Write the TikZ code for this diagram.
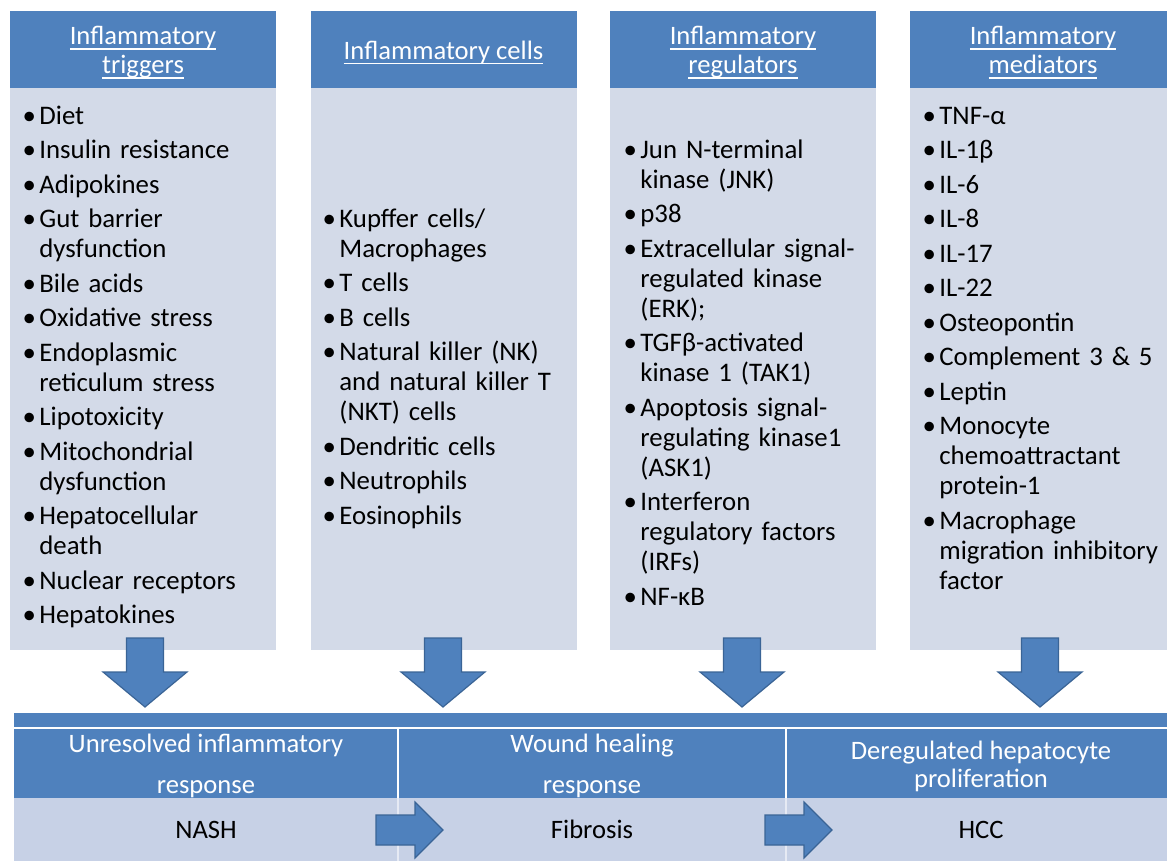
\documentclass[tikz,border=0pt]{standalone}
\usepackage{fontspec}
\setmainfont{Carlito}
\definecolor{hdblue}{HTML}{4F81BD}
\definecolor{bodyblue}{HTML}{D3DAE8}
\definecolor{rowblue}{HTML}{C7D1E6}
\definecolor{edgeblue}{HTML}{3A6496}
\newcommand{\hul}[1]{\setbox0\hbox{#1}\rlap{\raisebox{-2.4pt}{\rule{\wd0}{0.7pt}}}\box0}
\newenvironment{blist}{\begin{list}{\hbox to 6pt{\hss\textbullet\hss}}{%
  \setlength{\leftmargin}{8pt}\setlength{\labelwidth}{6pt}%
  \setlength{\labelsep}{2pt}\setlength{\itemsep}{2.25pt}%
  \setlength{\topsep}{0pt}\setlength{\partopsep}{0pt}\setlength{\parsep}{0pt}}}%
  {\end{list}}

\begin{document}
\begin{tikzpicture}[x=0.5pt,y=-0.5pt]
	\tikzstyle{headbox}=[rectangle,fill=hdblue,inner sep=0pt,minimum width=133pt,minimum height=38.5pt]
	\tikzstyle{headtext}=[text=white,align=center,inner sep=0pt,yshift=-1.5pt,font=\fontsize{13.3}{14.5}\selectfont]
	\tikzstyle{bodybox}=[rectangle,fill=bodyblue,inner sep=0pt,minimum width=133pt,minimum height=281pt]
	\tikzstyle{listtext}=[anchor=north west,inner sep=0pt,text width=125pt,align=left,font=\fontsize{13.4}{15}\selectfont]
	\tikzstyle{cellhead}=[rectangle,fill=hdblue,inner sep=0pt,minimum height=34.5pt]
	\tikzstyle{celltext}=[text=white,align=center,inner sep=0pt]
	\tikzstyle{cellbody}=[rectangle,fill=rowblue,inner sep=0pt,minimum height=31.5pt,font=\fontsize{13.3}{15}\selectfont]
	\tikzstyle{fatarrow}=[fill=hdblue,draw=edgeblue,line width=0.6pt,line join=miter]

	\clip (0,0) rectangle (1167,861);
	\fill[white] (0,0) rectangle (1167,861);

	% the four columns
	\node [headbox] (h1) at (143,49.5) {};
	\node [headbox] (h2) at (443.5,49.5) {};
	\node [headbox] (h3) at (743,49.5) {};
	\node [headbox] (h4) at (1043,49.5) {};
	\node [headtext] (t1) at (h1) {\hul{Inflammatory}\\\hul{triggers}};
	\node [headtext] (t2) at (h2) {\hul{Inflammatory cells}};
	\node [headtext] (t3) at (h3) {\hul{Inflammatory}\\\hul{regulators}};
	\node [headtext] (t4) at (h4) {\hul{Inflammatory}\\\hul{mediators}};

	\node [bodybox] (b1) at (143,369) {};
	\node [bodybox] (b2) at (443.5,369) {};
	\node [bodybox] (b3) at (743,369) {};
	\node [bodybox] (b4) at (1043,369) {};

	\node [listtext] (l1) at (23,94) {\begin{blist}
		\item Diet
		\item Insulin resistance
		\item Adipokines
		\item Gut barrier\\dysfunction
		\item Bile acids
		\item Oxidative stress
		\item Endoplasmic\\reticulum stress
		\item Lipotoxicity
		\item Mitochondrial\\dysfunction
		\item Hepatocellular\\death
		\item Nuclear receptors
		\item Hepatokines
	\end{blist}};
	\node [listtext] (l2) at (323,197) {\begin{blist}
		\item Kupffer cells/\\Macrophages
		\item T cells
		\item B cells
		\item Natural killer (NK)\\and natural killer T\\(NKT) cells
		\item Dendritic cells
		\item Neutrophils
		\item Eosinophils
	\end{blist}};
	\node [listtext] (l3) at (624,128) {\begin{blist}
		\item Jun N-terminal\\kinase (JNK)
		\item p38
		\item Extracellular signal-\\regulated kinase\\(ERK);
		\item TGFβ-activated\\kinase 1 (TAK1)
		\item Apoptosis signal-\\regulating kinase1\\(ASK1)
		\item Interferon\\regulatory factors\\(IRFs)
		\item NF-κB
	\end{blist}};
	\node [listtext] (l4) at (923,94) {\begin{blist}
		\item TNF-α
		\item IL-1β
		\item IL-6
		\item IL-8
		\item IL-17
		\item IL-22
		\item Osteopontin
		\item Complement 3 \& 5
		\item Leptin
		\item Monocyte\\chemoattractant\\protein-1
		\item Macrophage\\migration inhibitory\\factor
	\end{blist}};

	% the bottom band
	\fill[hdblue] (14,713) rectangle (1176,727);
	\node [cellhead,minimum width=192pt] (r1) at (206,763.5) {};
	\node [cellhead,minimum width=194pt] (r2) at (592,763.5) {};
	\node [cellhead,minimum width=195pt] (r3) at (981,763.5) {};
	\node [celltext,yshift=-1pt,font=\fontsize{13.3}{20.5}\selectfont] (u1) at (r1) {Unresolved inflammatory\\response};
	\node [celltext,yshift=-1pt,font=\fontsize{13.3}{20.5}\selectfont] (u2) at (r2) {Wound healing\\response};
	\node [celltext,yshift=-1.5pt,font=\fontsize{13.3}{14}\selectfont] (u3) at (r3) {Deregulated hepatocyte\\proliferation};
	\node [cellbody,minimum width=192pt] (o1) at (206,829.5) {NASH};
	\node [cellbody,minimum width=194pt] (o2) at (592,829.5) {Fibrosis};
	\node [cellbody,minimum width=195pt] (o3) at (981,829.5) {HCC};

	\draw[white,line width=1pt] (r1.north east) -- (r1.south east);
	\draw[white,line width=1pt] (r2.north east) -- (r2.south east);
	\draw[white!55!rowblue,line width=1pt] (o1.north east) -- (o1.south east);
	\draw[white!55!rowblue,line width=1pt] (o2.north east) -- (o2.south east);

	% block arrows
	\foreach \cx in {145,443,742,1040}
		\draw[fatarrow] (\cx-18.5,638) -- (\cx+18.5,638) -- (\cx+18.5,672) -- (\cx+42,672)
			-- (\cx,707) -- (\cx-42,672) -- (\cx-18.5,672) -- cycle;
	\foreach \sx/\tx in {376/443,765/832}
		\draw[fatarrow] (\sx,815) -- (\tx-28,815) -- (\tx-28,802) -- (\tx,830)
			-- (\tx-28,858) -- (\tx-28,845) -- (\sx,845) -- cycle;

\end{tikzpicture}
\end{document}
